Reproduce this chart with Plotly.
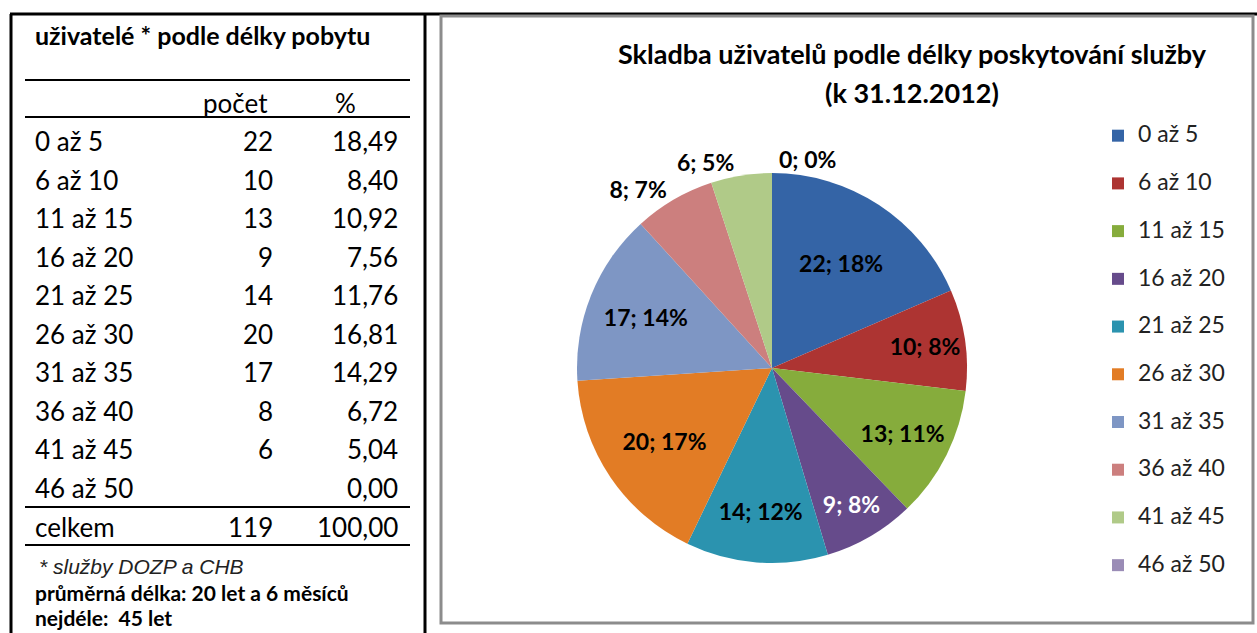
import plotly.graph_objects as go

W, H = 1257, 633

# ---- data ----
categories = ["0 až 5", "6 až 10", "11 až 15", "16 až 20", "21 až 25",
              "26 až 30", "31 až 35", "36 až 40", "41 až 45", "46 až 50"]
counts = [22, 10, 13, 9, 14, 20, 17, 8, 6, 0]
percents = [18.49, 8.40, 10.92, 7.56, 11.76, 16.81, 14.29, 6.72, 5.04, 0.00]
total_count = 119
total_percent = 100.00

table_title = "uživatelé * podle délky pobytu"
col_headers = ["počet", "%"]
total_label = "celkem"
footnote = "* služby DOZP a CHB"
note_avg = "průměrná délka: 20 let a 6 měsíců"
note_max = "nejdéle:  45 let"
chart_title_1 = "Skladba uživatelů podle délky poskytování služby"
chart_title_2 = "(k 31.12.2012)"

colors = ["#3464A6", "#AD3432", "#86AC3C", "#664B8B", "#2B93AF",
          "#E27C25", "#7E96C4", "#CC7F7E", "#B0CA88", "#9A8CB6"]
text_colors = ["black", "black", "black", "white", "black",
               "black", "black", "black", "black", "black"]
# main trace: inside labels + one outside label; overlay trace: the two top outside labels
text_pos_main = ["inside"] * 7 + ["outside", "none", "none"]
text_pos_top = ["none"] * 8 + ["outside", "outside"]


def px(x):
    return x / W


def py(y):
    return 1 - y / H


FONT = "Lato"
pie_domain = dict(x=[px(577), px(967)], y=[py(563), py(173)])

legend_labels = [f"<span style='font-size:23px'>{c}</span><br> " for c in categories]

fig = go.Figure()
fig.add_trace(go.Pie(
    labels=legend_labels,
    values=counts,
    customdata=categories,
    sort=False,
    direction="clockwise",
    rotation=0,
    marker=dict(colors=colors, line=dict(width=0)),
    texttemplate="%{value}; %{percent:.0%}",
    textposition=text_pos_main,
    insidetextorientation="horizontal",
    insidetextfont=dict(family=FONT, size=23, color=text_colors, weight=700),
    outsidetextfont=dict(family=FONT, size=23, color="black", weight=700),
    hovertemplate="%{customdata}: %{value}<extra></extra>",
    domain=pie_domain,
    showlegend=True,
))
fig.add_trace(go.Pie(
    labels=categories,
    values=counts,
    sort=False,
    direction="clockwise",
    rotation=0,
    marker=dict(colors=["rgba(0,0,0,0)"] * len(categories), line=dict(width=0)),
    texttemplate="%{value}; %{percent:.0%}",
    textposition=text_pos_top,
    outsidetextfont=dict(family=FONT, size=23, color="black", weight=700),
    hoverinfo="skip",
    domain=pie_domain,
    showlegend=False,
))

shapes = []
# outer black borders
shapes.append(dict(type="line", xref="paper", yref="paper", x0=px(10), x1=px(1257),
                   y0=py(14), y1=py(14), line=dict(color="black", width=3)))
shapes.append(dict(type="line", xref="paper", yref="paper", x0=px(11), x1=px(11),
                   y0=py(14), y1=py(633), line=dict(color="black", width=3)))
shapes.append(dict(type="line", xref="paper", yref="paper", x0=px(425), x1=px(425),
                   y0=py(14), y1=py(633), line=dict(color="black", width=3)))
# chart area gray frame
shapes.append(dict(type="rect", xref="paper", yref="paper", x0=px(441), x1=px(1253),
                   y0=py(623), y1=py(16), line=dict(color="#8C8C8C", width=3)))
# table rules
for yy in [80, 117, 507, 545]:
    shapes.append(dict(type="line", xref="paper", yref="paper", x0=px(25), x1=px(410),
                       y0=py(yy), y1=py(yy), line=dict(color="black", width=2)))

ann = []


def add_text(text, x, y, anchor="left", size=26, bold=False, italic=False, family=FONT, color="black"):
    ann.append(dict(text=text, x=px(x), y=py(y), xref="paper", yref="paper",
                    xanchor=anchor, yanchor="middle", showarrow=False,
                    font=dict(family=family, size=size, color=color,
                              weight=700 if bold else 400,
                              style="italic" if italic else "normal")))


add_text(table_title, 33, 35, size=25, bold=True)
add_text(col_headers[0], 235, 103, anchor="center")
add_text(col_headers[1], 345, 103, anchor="center")

row_y0, row_dy = 141, 38.5
for i, (c, n, p) in enumerate(zip(categories, counts, percents)):
    y = row_y0 + i * row_dy
    add_text(c, 33, y)
    if n:
        add_text(str(n), 275, y, anchor="right")
    add_text(f"{p:.2f}".replace(".", ","), 400, y, anchor="right")

add_text(total_label, 33, 527)
add_text(str(total_count), 275, 527, anchor="right")
add_text(f"{total_percent:.2f}".replace(".", ","), 400, 527, anchor="right")

add_text(footnote, 37, 566, size=21, italic=True, family="Liberation Sans", color="#222222")
add_text(note_avg, 33, 592, size=21, bold=True)
add_text(note_max, 33, 617, size=21, bold=True)

add_text(chart_title_2, 912, 92, anchor="center", size=27, bold=True)

fig.update_layout(
    width=W, height=H,
    margin=dict(l=0, r=0, t=0, b=0),
    paper_bgcolor="white",
    plot_bgcolor="white",
    title=dict(text=chart_title_1, x=px(912), xanchor="center", y=py(55), yanchor="middle",
               font=dict(family=FONT, size=27, color="black", weight=700)),
    legend=dict(x=px(1098), xanchor="left", y=py(118), yanchor="top",
                font=dict(family=FONT, size=17.2, color="#222222"),
                itemwidth=30, valign="top", bgcolor="rgba(0,0,0,0)",
                itemclick=False, itemdoubleclick=False),
    uniformtext=dict(minsize=23, mode="show"),
    shapes=shapes,
    annotations=ann,
)

fig.write_html("out.html", config={"displayModeBar": False},
               post_script="document.body.style.margin='0px';")
